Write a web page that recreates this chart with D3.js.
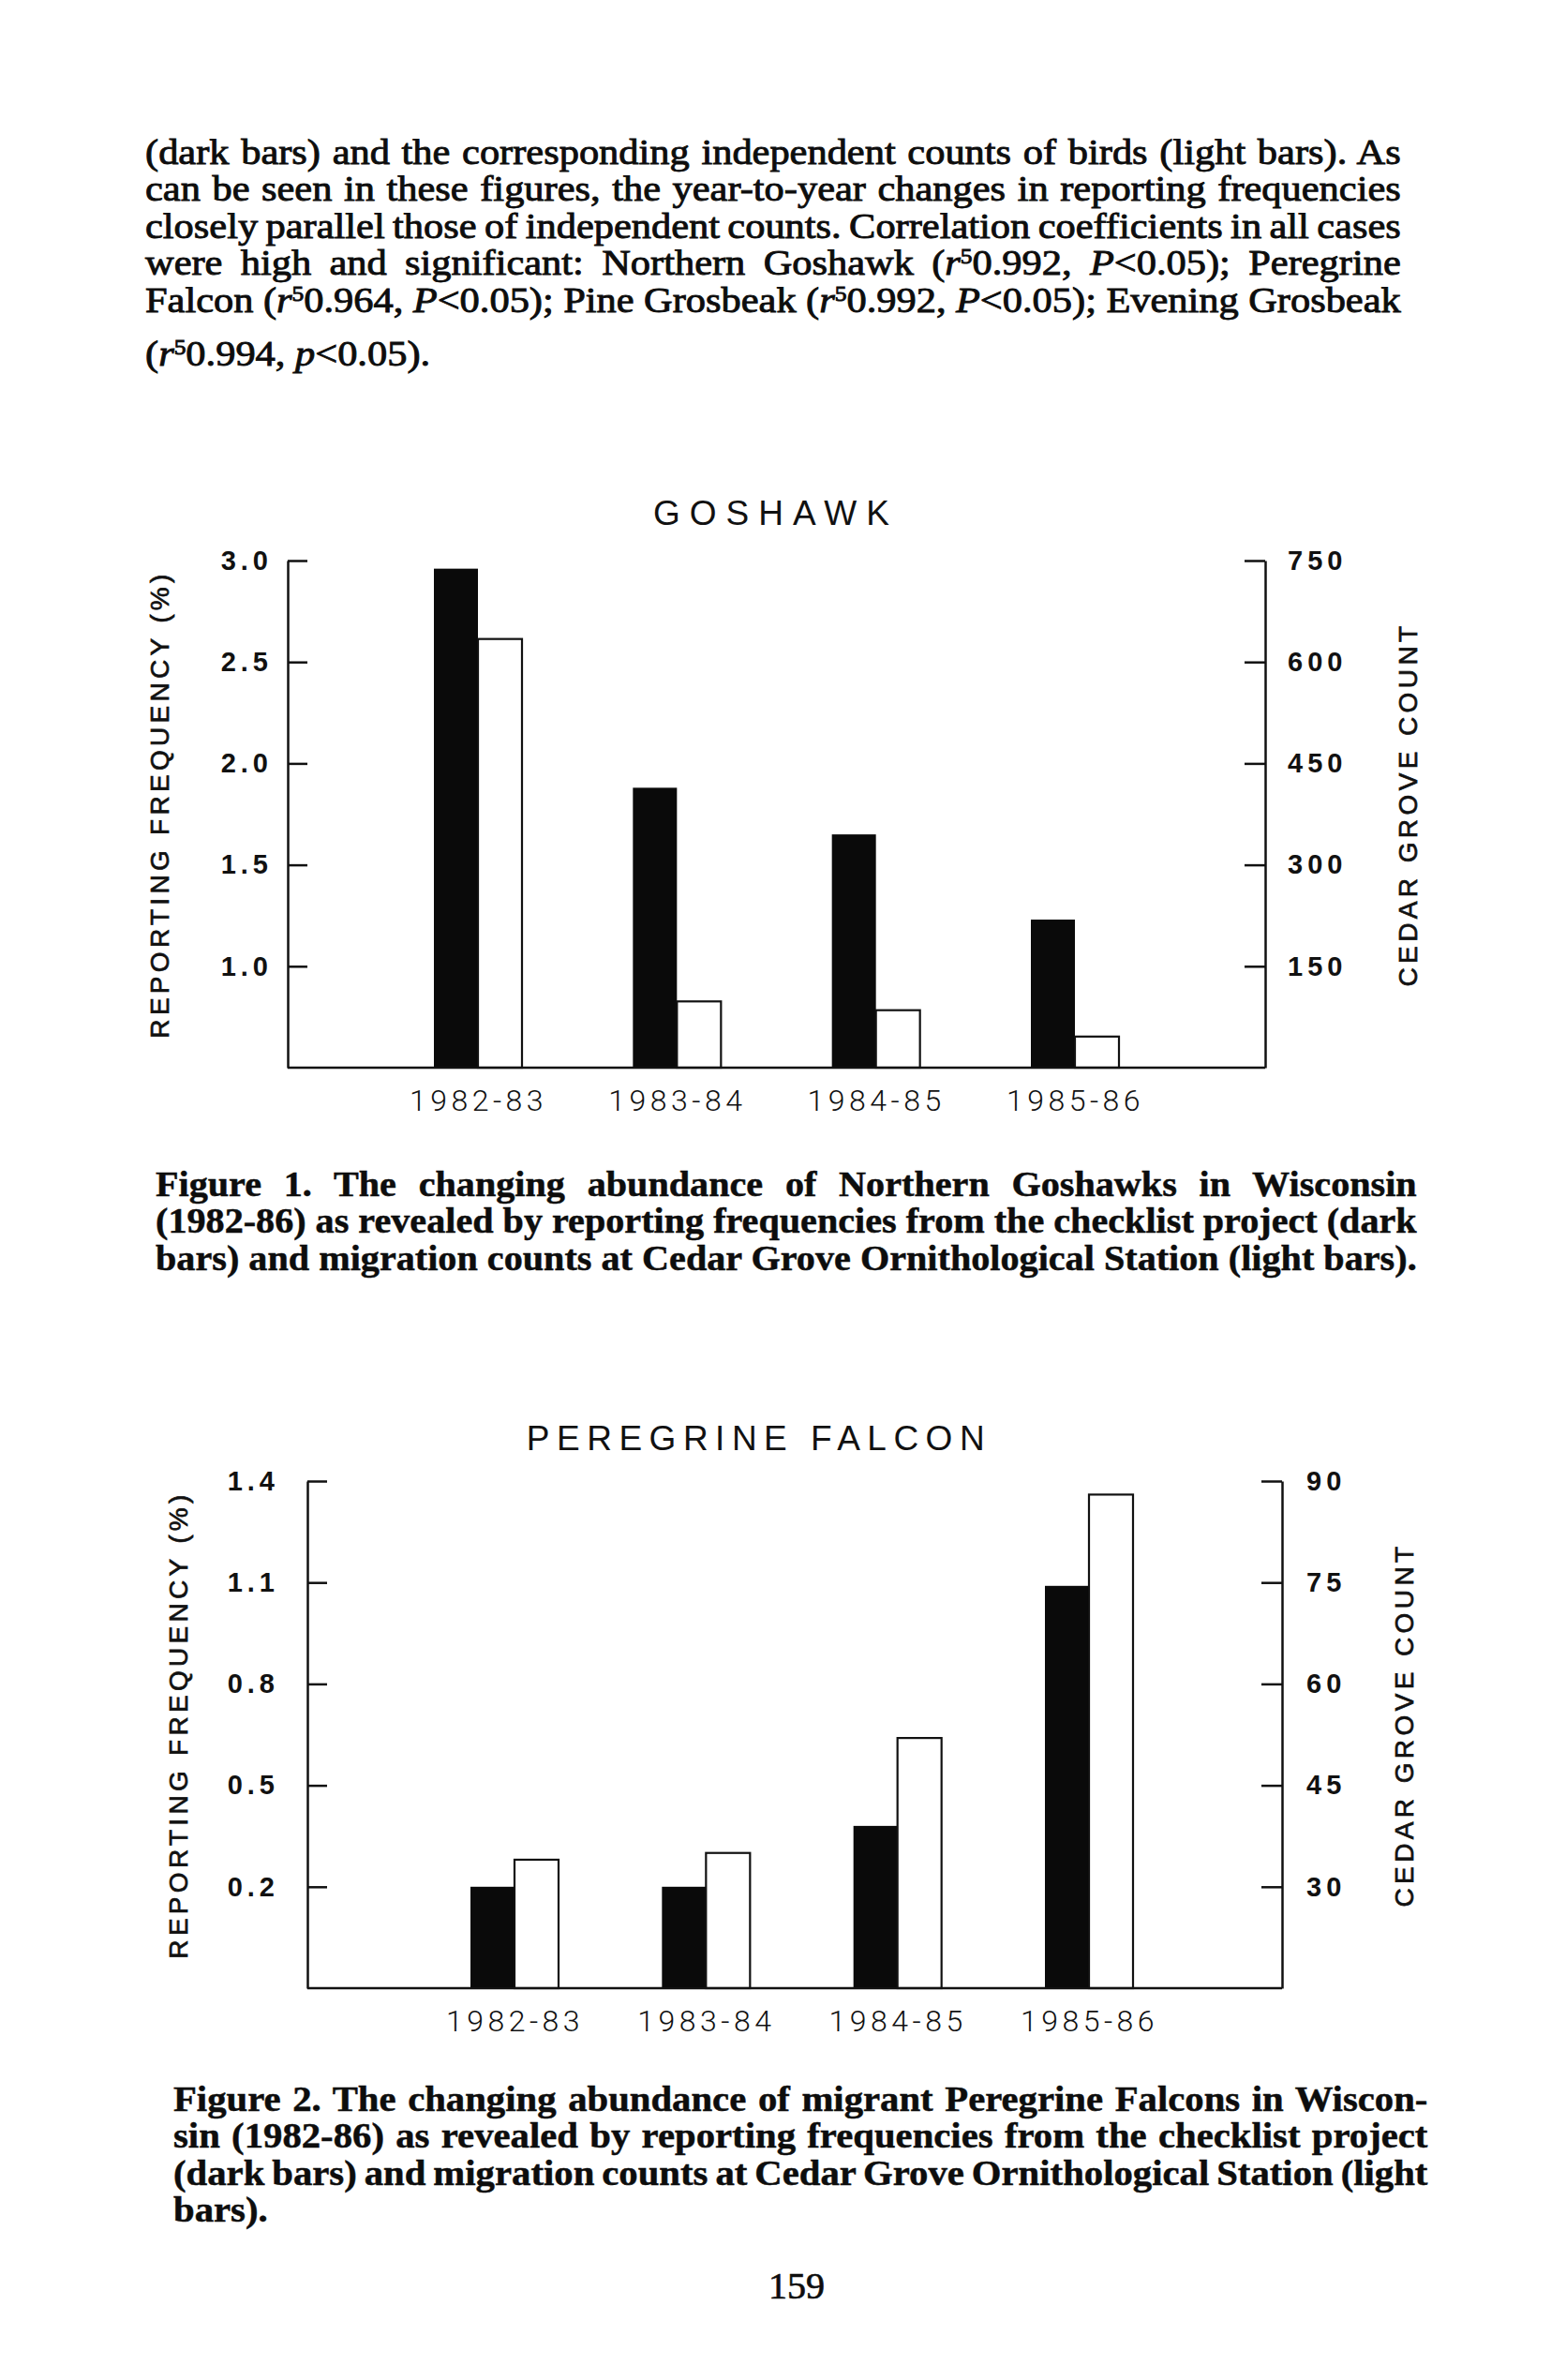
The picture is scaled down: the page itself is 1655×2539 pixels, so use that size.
<!DOCTYPE html>
<html lang="en">
<head>
<meta charset="UTF-8">
<title>Goshawk and Peregrine Falcon reporting frequencies</title>
<script src="https://d3js.org/d3.v7.min.js"></script>
<style>
  body { margin: 0; background: #fff; }
  svg { display: block; }
</style>
</head>
<body>
<svg id="page" width="1655" height="2539"></svg>
<script>
// ---- data ----
var years = ["1982-83", "1983-84", "1984-85", "1985-86"];

var goshawkFreq = [2.96, 1.88, 1.65, 1.23];      // dark bars, reporting frequency (%)
var goshawkCount = [634, 98, 85, 46];            // light bars, Cedar Grove count
var goshawkFreqTicks = [1.0, 1.5, 2.0, 2.5, 3.0];
var goshawkCountTicks = [150, 300, 450, 600, 750];
var goshawkFreqDomain = [0.5, 3.0];
var goshawkCountDomain = [0, 750];

var falconFreq = [0.20, 0.20, 0.38, 1.09];
var falconCount = [34, 35, 52, 88];
var falconFreqTicks = [0.2, 0.5, 0.8, 1.1, 1.4];
var falconCountTicks = [30, 45, 60, 75, 90];
var falconFreqDomain = [-0.1, 1.4];
var falconCountDomain = [15, 90];

// page text; _x_ = italic, ^x^ = superscript
var bodyLines = [
  "(dark bars) and the corresponding independent counts of birds (light bars). As",
  "can be seen in these figures, the year-to-year changes in reporting frequencies",
  "closely parallel those of independent counts. Correlation coefficients in all cases",
  "were high and significant: Northern Goshawk (_r_^5^0.992, _P_<0.05); Peregrine",
  "Falcon (_r_^5^0.964, _P_<0.05); Pine Grosbeak (_r_^5^0.992, _P_<0.05); Evening Grosbeak",
  "(_r_^5^0.994, _p_<0.05)."
];
var caption1 = [
  "Figure 1. The changing abundance of Northern Goshawks in Wisconsin",
  "(1982-86) as revealed by reporting frequencies from the checklist project (dark",
  "bars) and migration counts at Cedar Grove Ornithological Station (light bars)."
];
var caption2 = [
  "Figure 2. The changing abundance of migrant Peregrine Falcons in Wiscon-",
  "sin (1982-86) as revealed by reporting frequencies from the checklist project",
  "(dark bars) and migration counts at Cedar Grove Ornithological Station (light",
  "bars)."
];

var svg = d3.select("#page");
svg.append("rect").attr("width", 1655).attr("height", 2539).attr("fill", "#fff");

var SANS = "'Liberation Sans', Arial, Helvetica, sans-serif";
var SERIF = "'Liberation Serif', 'Times New Roman', serif";

function addParts(line, str) {
  var parts = str.split(/(_[^_]+_|\^[^\^]+\^)/).filter(function(s) { return s.length; });
  var lift = false;
  parts.forEach(function(p) {
    var sp;
    if (p[0] === "^") {
      line.append("tspan").attr("font-size", "0.6em").attr("dy", -12).text(p.slice(1, -1));
      lift = true;
      return;
    }
    if (p[0] === "_") sp = line.append("tspan").attr("font-style", "italic").text(p.slice(1, -1));
    else sp = line.append("tspan").text(p);
    if (lift) { sp.attr("dy", 12); lift = false; }
  });
}

// justified paragraph as one text block: glyphs scaled between the tightest
// and the median line, word spacing then fills each justified line
function paragraph(lines, o) {
  var t = svg.append("text")
    .attr("font-family", SERIF)
    .attr("font-size", o.size)
    .attr("font-weight", o.weight)
    .attr("fill", "#0d0d0d")
    .attr("stroke", "#0d0d0d")
    .attr("stroke-width", o.stroke);
  var spans = lines.map(function(ln, i) {
    var s = t.append("tspan").attr("x", 0).attr("y", o.ys[i]);
    addParts(s, ln);
    return s;
  });
  var widths = spans.map(function(s) { return s.node().getComputedTextLength(); });
  var target = o.right - o.left;
  var ratios = [];
  widths.forEach(function(w, i) { if (o.justify[i]) ratios.push(target / w); });
  var sx = (d3.median(ratios) + d3.min(ratios)) / 2;
  t.attr("transform", "translate(" + o.left + ",0) scale(" + sx + ",1)");
  spans.forEach(function(s, i) {
    if (!o.justify[i]) return;
    var spaces = (lines[i].match(/ /g) || []).length;
    s.attr("word-spacing", (target / sx - widths[i]) / spaces);
  });
}

paragraph(bodyLines, { left: 155, right: 1495, ys: [175, 214.5, 254, 293.5, 333, 390],
  size: 38, weight: "normal", stroke: 0.9, justify: [1, 1, 1, 1, 1, 0] });
paragraph(caption1, { left: 166, right: 1512, ys: [1276, 1315.5, 1355],
  size: 38, weight: "bold", stroke: 0.5, justify: [1, 1, 1] });
paragraph(caption2, { left: 185, right: 1524, ys: [2252, 2291.5, 2331, 2370.5],
  size: 38, weight: "bold", stroke: 0.5, justify: [1, 1, 1, 0] });

svg.append("text")
  .attr("x", 850).attr("y", 2452)
  .attr("text-anchor", "middle")
  .attr("font-family", SERIF).attr("font-size", 40)
  .attr("fill", "#0d0d0d").attr("stroke", "#0d0d0d").attr("stroke-width", 0.7)
  .text("159");

// ---- charts ----
var barW = 47;

function drawChart(c) {
  var g = svg.append("g");
  var x = d3.scalePoint().domain(years).range(c.centers);
  var yL = d3.scaleLinear().domain(c.freqDomain).range([c.bottom, c.top]);
  var yR = d3.scaleLinear().domain(c.countDomain).range([c.bottom, c.top]);

  // title
  g.append("text")
    .attr("x", c.titleX).attr("y", c.titleY)
    .attr("text-anchor", "middle")
    .attr("font-family", SANS).attr("font-size", 37)
    .attr("letter-spacing", c.titleSpacing)
    .attr("fill", "#111")
    .text(c.title);

  // dark bars = reporting frequency
  g.selectAll("rect.dark").data(c.freq).join("rect")
    .attr("class", "dark")
    .attr("x", function(d, i) { return x(years[i]) - barW; })
    .attr("y", function(d) { return yL(d); })
    .attr("width", barW)
    .attr("height", function(d) { return c.bottom - yL(d); })
    .attr("fill", "#0a0a0a");

  // light bars = Cedar Grove counts
  g.selectAll("rect.light").data(c.count).join("rect")
    .attr("class", "light")
    .attr("x", function(d, i) { return x(years[i]); })
    .attr("y", function(d) { return yR(d); })
    .attr("width", barW)
    .attr("height", function(d) { return c.bottom - yR(d); })
    .attr("fill", "#fff")
    .attr("stroke", "#111")
    .attr("stroke-width", 2.2);

  // left axis, ticks point inwards
  var gl = g.append("g")
    .attr("transform", "translate(" + c.left + ",0)")
    .call(d3.axisLeft(yL).tickValues(c.freqTicks).tickFormat(d3.format(".1f"))
      .tickSize(-21).tickSizeOuter(0).tickPadding(c.padL));

  // right axis
  var gr = g.append("g")
    .attr("transform", "translate(" + c.right + ",0)")
    .call(d3.axisRight(yR).tickValues(c.countTicks).tickFormat(d3.format("d"))
      .tickSize(-22).tickSizeOuter(0).tickPadding(c.padR));

  [gl, gr].forEach(function(a) {
    a.selectAll("path, line").attr("stroke", "#111").attr("stroke-width", 2.5);
    a.selectAll("text")
      .attr("font-family", SANS).attr("font-size", 29).attr("font-weight", "bold")
      .attr("letter-spacing", 5)
      .attr("fill", "#111");
  });

  // bottom axis: labels only, baseline drawn across the frame
  var gb = g.append("g")
    .attr("transform", "translate(0," + c.bottom + ")")
    .call(d3.axisBottom(x).tickSize(0).tickPadding(23));
  gb.select(".domain").remove();
  gb.selectAll("text")
    .attr("font-family", "Roboto, " + SANS).attr("font-weight", 300)
    .attr("font-size", 32).attr("letter-spacing", 4.5)
    .attr("fill", "#111");
  g.append("line")
    .attr("x1", c.left).attr("x2", c.right)
    .attr("y1", c.bottom).attr("y2", c.bottom)
    .attr("stroke", "#111").attr("stroke-width", 2.5);

  // axis titles
  g.append("text")
    .attr("transform", "translate(" + c.leftTitleX + "," + c.axisTitleY + ") rotate(-90)")
    .attr("text-anchor", "middle").attr("dominant-baseline", "central")
    .attr("font-family", SANS).attr("font-size", 28).attr("letter-spacing", 4.3)
    .attr("fill", "#111").attr("stroke", "#111").attr("stroke-width", 0.7)
    .text("REPORTING FREQUENCY (%)");
  g.append("text")
    .attr("transform", "translate(" + c.rightTitleX + "," + c.axisTitleY + ") rotate(-90)")
    .attr("text-anchor", "middle").attr("dominant-baseline", "central")
    .attr("font-family", SANS).attr("font-size", 28).attr("letter-spacing", 4.4)
    .attr("fill", "#111").attr("stroke", "#111").attr("stroke-width", 0.7)
    .text("CEDAR GROVE COUNT");
}

drawChart({
  title: "GOSHAWK", titleX: 828, titleY: 560, titleSpacing: 10,
  left: 307, right: 1350, top: 598, bottom: 1139,
  centers: [510, 1147],
  freq: goshawkFreq, count: goshawkCount,
  freqDomain: goshawkFreqDomain, countDomain: goshawkCountDomain,
  freqTicks: goshawkFreqTicks, countTicks: goshawkCountTicks,
  padL: 16, padR: 24, leftTitleX: 170, rightTitleX: 1502, axisTitleY: 858
});

drawChart({
  title: "PEREGRINE FALCON", titleX: 810, titleY: 1547, titleSpacing: 7.5,
  left: 328, right: 1368, top: 1580, bottom: 2121,
  centers: [549, 1162],
  freq: falconFreq, count: falconCount,
  freqDomain: falconFreqDomain, countDomain: falconCountDomain,
  freqTicks: falconFreqTicks, countTicks: falconCountTicks,
  padL: 30, padR: 26, leftTitleX: 190, rightTitleX: 1498, axisTitleY: 1840
});
</script>
</body>
</html>
